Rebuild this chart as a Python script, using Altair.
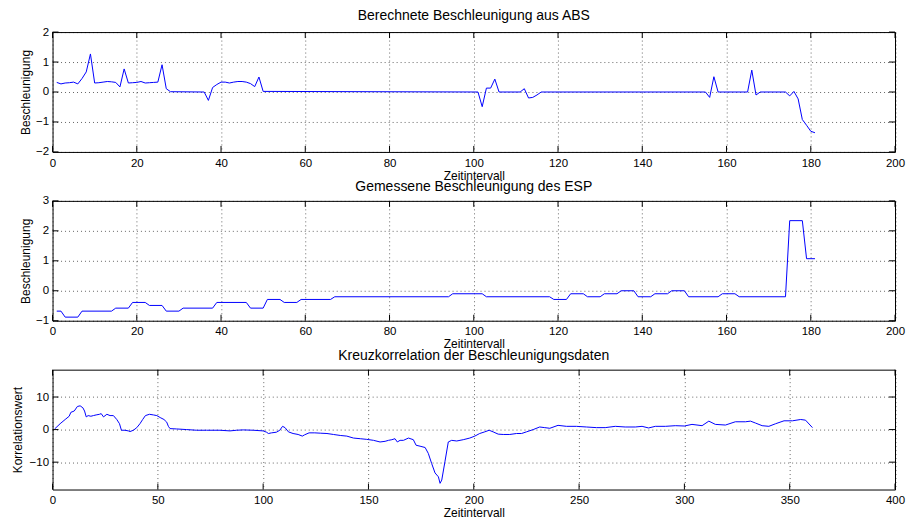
import altair as alt
import pandas as pd

FONT = "Liberation Sans"

# --- Berechnete Beschleunigung aus ABS (polyline vertices) ---
abs_t = [1, 2, 3, 4, 5, 6, 7, 8, 9, 10, 11, 12, 13, 14, 15, 16, 17, 18, 19, 20,
         21, 22, 23, 24, 25, 26, 27, 28, 36, 37, 38, 39, 40, 41, 42, 43, 44, 45,
         46, 47, 48, 49, 50, 101, 102, 103, 104, 105, 106, 111, 112, 113, 114,
         115, 116, 155, 156, 157, 158, 165, 166, 167, 168, 174, 175, 176, 177,
         178, 179, 180, 181]
abs_a = [0.32, 0.27, 0.30, 0.31, 0.33, 0.27, 0.45, 0.67, 1.27, 0.30, 0.31, 0.33,
         0.35, 0.34, 0.32, 0.17, 0.77, 0.30, 0.31, 0.32, 0.35, 0.30, 0.31, 0.32,
         0.33, 0.91, 0.11, 0.01, 0.00, -0.28, 0.15, 0.25, 0.33, 0.33, 0.30, 0.33,
         0.35, 0.35, 0.33, 0.28, 0.18, 0.50, 0.02, 0.00, -0.49, 0.13, 0.13, 0.43,
         0.00, 0.00, 0.11, -0.20, -0.18, -0.10, 0.00, 0.00, -0.18, 0.51, 0.00,
         0.00, 0.73, -0.10, 0.00, 0.00, -0.13, 0.02, -0.23, -0.92, -1.11, -1.31,
         -1.36]

# --- Gemessene Beschleunigung des ESP (step vertices) ---
esp_t = [1, 2, 3, 6, 7, 14, 15, 18, 19, 22, 23, 26, 27, 30, 31, 38, 39, 46, 47,
         50, 51, 54, 55, 58, 59, 66, 67, 94, 95, 102, 103, 118, 119, 122, 123,
         126, 127, 130, 131, 134, 135, 138, 139, 142, 143, 146, 147, 150, 151,
         158, 159, 162, 163, 174, 175, 178, 179, 181]
esp_a = [-0.68, -0.68, -0.88, -0.88, -0.68, -0.68, -0.58, -0.58, -0.39, -0.39,
         -0.49, -0.49, -0.68, -0.68, -0.58, -0.58, -0.39, -0.39, -0.58, -0.58,
         -0.29, -0.29, -0.39, -0.39, -0.29, -0.29, -0.20, -0.20, -0.10, -0.10,
         -0.20, -0.20, -0.29, -0.29, -0.10, -0.10, -0.20, -0.20, -0.10, -0.10,
         0.00, 0.00, -0.20, -0.20, -0.10, -0.10, 0.00, 0.00, -0.20, -0.20,
         -0.10, -0.10, -0.20, -0.20, 2.34, 2.34, 1.07, 1.07]

# --- Kreuzkorrelation der Beschleunigungsdaten ---
xc_lag = [1, 3.6, 6.0, 7.9, 8.7, 10.3, 11.8, 13.1, 14.4, 15.2, 16.0, 16.9, 18.2,
          19.4, 20.7, 22.3, 23.1, 24.2, 25.8, 27.3, 28.9, 30.5, 31.8, 32.7, 34.4,
          36.0, 36.8, 38.4, 40.0, 41.5, 42.8, 44.1, 46.0, 47.9, 49.5, 51.1, 52.9,
          54.2, 55.0, 55.8, 58.9, 63.7, 68.4, 73.1, 79.5, 84.2, 87.4, 90.5, 95.3,
          100.0, 101.6, 102.5, 104.0, 106.3, 107.9, 109.2, 110.4, 112.0, 114.2,
          116.6, 118.6, 119.7, 121.8, 124.5, 127.1, 130.3, 133.4, 136.6, 139.7,
          142.9, 146.1, 149.2, 152.4, 155.5, 157.9, 159.5, 161.1, 162.6, 163.7,
          165.0, 166.6, 169.0, 171.3, 172.6, 174.5, 176.9, 178.4, 180.0, 181.6,
          183.2, 184.0, 184.8, 186.3, 187.9, 189.5, 191.9, 195.0, 198.1, 200.5,
          202.8, 205.2, 207.3, 209.2, 211.6, 214.0, 217.1, 220.3, 222.7, 225.0,
          228.2, 231.3, 233.7, 236.1, 240.0, 244.0, 248.7, 253.5, 258.2, 262.4,
          267.2, 271.9, 276.7, 279.9, 283.0, 286.2, 291.0, 295.7, 300.0, 303.6,
          308.4, 311.6, 314.7, 319.5, 324.2, 329.0, 331.4, 333.8, 336.9, 340.1,
          343.3, 347.3, 351.3, 355.2, 357.5, 360.8]
xc_val = [0.2, 1.8, 3.1, 4.1, 5.3, 5.7, 7.1, 7.3, 6.7, 5.7, 3.9, 4.3, 4.1, 4.3,
          4.5, 4.7, 4.9, 3.9, 4.7, 4.3, 4.3, 3.1, 1.8, -0.2, -0.2, -0.4, -0.6,
          -0.2, 0.6, 1.8, 3.1, 4.3, 4.7, 4.5, 4.3, 3.7, 3.1, 2.3, 1.0, 0.3, 0.2,
          0.0, -0.2, -0.2, -0.2, -0.4, -0.2, -0.1, -0.2, -0.4, -0.8, -1.2, -1.0,
          -0.8, -0.2, 1.0, 0.6, -0.7, -1.2, -1.5, -2.0, -1.6, -1.0, -1.0, -1.1,
          -1.2, -1.5, -1.8, -2.0, -2.6, -2.8, -3.0, -3.3, -3.8, -3.6, -3.3, -3.1,
          -2.8, -3.8, -3.3, -3.3, -2.6, -3.1, -4.8, -5.1, -5.5, -7.3, -10.4,
          -13.3, -14.5, -16.5, -15.5, -9.9, -3.8, -3.3, -3.5, -3.1, -2.6, -2.0,
          -1.2, -0.7, -0.2, -0.7, -1.4, -1.5, -1.5, -1.2, -1.2, -0.7, 0.0, 0.8,
          0.6, 0.4, 1.3, 1.0, 1.0, 0.8, 0.6, 0.6, 1.0, 0.8, 0.8, 1.0, 0.5, 1.0,
          1.0, 1.2, 1.1, 1.6, 1.2, 2.6, 1.6, 1.4, 2.4, 2.4, 2.6, 2.0, 1.2, 1.0,
          1.8, 2.7, 2.7, 3.1, 2.9, 0.6]

# tick positions
x_ticks_200 = [0, 20, 40, 60, 80, 100, 120, 140, 160, 180, 200]
x_ticks_400 = [0, 50, 100, 150, 200, 250, 300, 350, 400]
y_ticks_abs = [-2, -1, 0, 1, 2]
y_ticks_esp = [-1, 0, 1, 2, 3]
y_ticks_xc = [-10, 0, 10]

W = 843.5
H = 120
TICK = 6


def panel(t, v, xdom, ydom, xt, yt, title, title_gap, ytitle, ytitle_x):
    df = pd.DataFrame({"t": t, "v": v})
    xs = alt.Scale(domain=xdom, nice=False, zero=False)
    ys = alt.Scale(domain=ydom, nice=False, zero=False)
    xaxis = alt.Axis(values=xt, title="Zeitintervall", titleX=W / 2, titleY=27.3)
    yaxis = alt.Axis(values=yt, title=ytitle, titleX=ytitle_x, titleY=H / 2)

    line = alt.Chart(df).mark_line(color="#0000ff", strokeWidth=1, clip=True).encode(
        x=alt.X("t:Q", scale=xs, axis=xaxis),
        y=alt.Y("v:Q", scale=ys, axis=yaxis),
    )

    # inward tick marks on all four sides of the frame
    xtick_df = pd.DataFrame({"t": xt})
    ytick_df = pd.DataFrame({"v": yt})
    bottom = alt.Chart(xtick_df).mark_rule(color="black", strokeWidth=1).encode(
        x=alt.X("t:Q", scale=xs, axis=xaxis), y=alt.value(H), y2=alt.value(H - TICK))
    top = alt.Chart(xtick_df).mark_rule(color="black", strokeWidth=1).encode(
        x=alt.X("t:Q", scale=xs, axis=xaxis), y=alt.value(0), y2=alt.value(TICK))
    left = alt.Chart(ytick_df).mark_rule(color="black", strokeWidth=1).encode(
        y=alt.Y("v:Q", scale=ys, axis=yaxis), x=alt.value(0), x2=alt.value(TICK))
    right = alt.Chart(ytick_df).mark_rule(color="black", strokeWidth=1).encode(
        y=alt.Y("v:Q", scale=ys, axis=yaxis), x=alt.value(W), x2=alt.value(W - TICK))

    # panel heading, centred over the plot area
    head = alt.Chart(pd.DataFrame({"label": [title]})).mark_text(
        font=FONT, fontSize=14, color="black", align="center", baseline="alphabetic"
    ).encode(text="label:N", x=alt.value(W / 2), y=alt.value(-title_gap))

    return alt.layer(line, bottom, top, left, right, head).properties(width=W, height=H)


p1 = panel(abs_t, abs_a, [0, 200], [-2, 2], x_ticks_200, y_ticks_abs,
           "Berechnete Beschleunigung aus ABS", 11.7, "Beschleunigung", -23.3)
p2 = panel(esp_t, esp_a, [0, 200], [-1, 3], x_ticks_200, y_ticks_esp,
           "Gemessene Beschleunigung des ESP", 10.0, "Beschleunigung", -23.3)
p3 = panel(xc_lag, xc_val, [0, 400], [-18.4, 18.4], x_ticks_400, y_ticks_xc,
           "Kreuzkorrelation der Beschleunigungsdaten", 9.3, "Korrelationswert", -30.8)

chart = alt.vconcat(p1, p2, p3, spacing=49, bounds="flush").properties(
    padding={"left": 10.6, "top": 7.8, "right": 2, "bottom": 0},
    background="white",
).configure_view(
    stroke="black", strokeWidth=1
).configure_axis(
    ticks=False, tickSize=0, domain=False,
    grid=True, gridDash=[1, 3], gridColor="#000000", gridOpacity=0.6, gridWidth=1,
    labelFont=FONT, labelFontSize=11.5, labelColor="black",
    labelFlush=False, labelOverlap=False,
    titleFont=FONT, titleFontSize=12, titleFontWeight="normal", titleColor="black",
    titleBaseline="alphabetic",
).configure_axisX(
    labelBaseline="alphabetic", labelPadding=14.2, labelAlign="center",
).configure_axisY(
    labelPadding=4, labelAlign="right", labelBaseline="middle", titleAngle=270,
    titleAlign="center",
)

chart.save("out.html", embed_options={"renderer": "svg", "actions": False})
